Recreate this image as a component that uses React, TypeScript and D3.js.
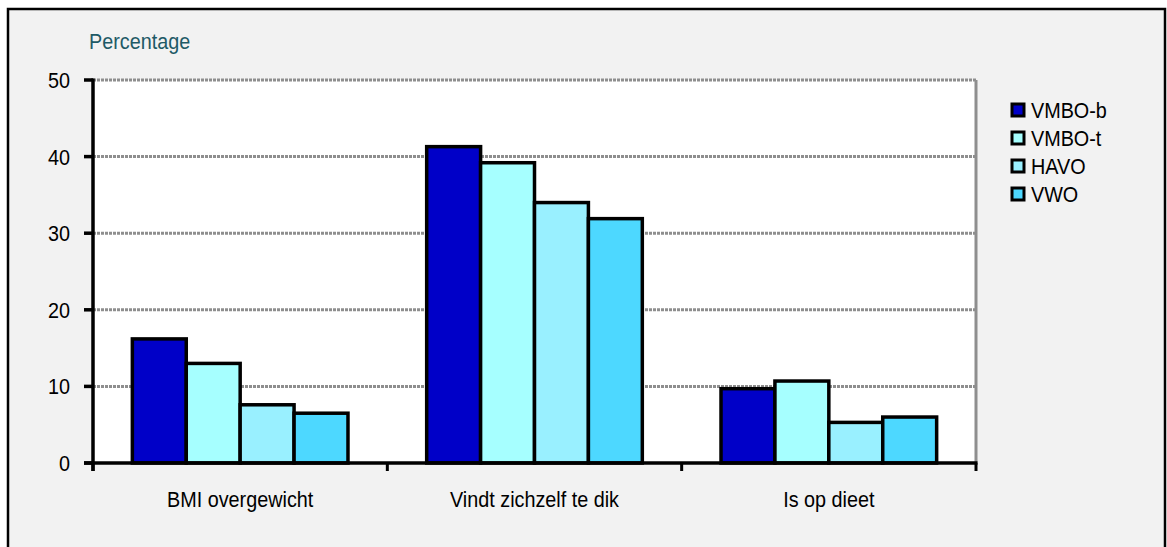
import React from "react";
import * as d3 from "d3";

const categories = ["BMI overgewicht", "Vindt zichzelf te dik", "Is op dieet"];
const seriesNames = ["VMBO-b", "VMBO-t", "HAVO", "VWO"];
const vmboB = [16.2, 41.3, 9.7];
const vmboT = [13.0, 39.2, 10.7];
const havo = [7.6, 34.0, 5.3];
const vwo = [6.5, 31.9, 6.0];
const yTicks = [0, 10, 20, 30, 40, 50];
const colors = ["#0000C8", "#A6FFFF", "#99F0FF", "#4DD8FF"];

const W = 1167;
const H = 547;
const plot = { left: 93, right: 976, top: 80, bottom: 463 };
const FONT = "'Liberation Sans', Arial, sans-serif";

export default function App() {
  const series = [vmboB, vmboT, havo, vwo];
  const x0 = d3.scaleBand<string>().domain(categories).range([plot.left, plot.right]).padding(0);
  const inner = d3
    .scaleBand<string>()
    .domain(seriesNames)
    .range([0, x0.bandwidth()])
    .paddingInner(0)
    .paddingOuter(0.73);
  const y = d3.scaleLinear().domain([0, 50]).range([plot.bottom, plot.top]);

  const sx = 0.9;
  const label = (x: number, yy: number, text: string, anchor: string, fill = "#000", key?: string) => (
    <text
      key={key}
      transform={`translate(${x},${yy}) scale(${sx},1)`}
      textAnchor={anchor}
      fontFamily={FONT}
      fontSize={22}
      fill={fill}
    >
      {text}
    </text>
  );

  const boundaries = [...categories.map((c) => x0(c)!), plot.right];

  return (
    <svg
      width={W}
      height={H}
      style={{ position: "absolute", left: 0, top: 0, display: "block" }}
    >
      <rect x={0} y={0} width={W} height={H} fill="#fff" />
      <rect x={8} y={9} width={1157} height={560} fill="#F2F2F2" stroke="#000" strokeWidth={2.5} />
      <rect
        x={plot.left}
        y={plot.top}
        width={plot.right - plot.left}
        height={plot.bottom - plot.top}
        fill="#fff"
      />
      {/* grid lines */}
      {yTicks
        .filter((t) => t > 0)
        .map((t) => (
          <line
            key={`g${t}`}
            x1={plot.left}
            x2={plot.right}
            y1={y(t)}
            y2={y(t)}
            stroke="#8E8E8E"
            strokeWidth={3}
            strokeDasharray="3 1"
          />
        ))}
      <line x1={plot.right} x2={plot.right} y1={plot.top} y2={plot.bottom} stroke="#8E8E8E" strokeWidth={3} />

      {/* bars */}
      {categories.map((c, ci) =>
        seriesNames.map((s, si) => {
          const bx = x0(c)! + inner(s)!;
          const v = series[si][ci];
          return (
            <rect
              key={`${c}-${s}`}
              x={bx}
              y={y(v)}
              width={inner.bandwidth()}
              height={y(0) - y(v)}
              fill={colors[si]}
              stroke="#000"
              strokeWidth={3.5}
            />
          );
        })
      )}

      {/* axes */}
      <line x1={plot.left} x2={plot.left} y1={plot.top - 1.5} y2={plot.bottom + 8} stroke="#000" strokeWidth={3.5} />
      <line x1={plot.left - 9} x2={plot.right + 1.5} y1={plot.bottom} y2={plot.bottom} stroke="#000" strokeWidth={3.5} />
      {yTicks.map((t) => (
        <line key={`yt${t}`} x1={plot.left - 9} x2={plot.left} y1={y(t)} y2={y(t)} stroke="#000" strokeWidth={3.5} />
      ))}
      {boundaries.map((bx, i) => (
        <line key={`xt${i}`} x1={bx} x2={bx} y1={plot.bottom} y2={plot.bottom + 8} stroke="#000" strokeWidth={3} />
      ))}
      {yTicks.map((t) => label(70, y(t) + 8, String(t), "end", "#000", `yl${t}`))}
      {categories.map((c) => label(x0(c)! + x0.bandwidth() / 2, 507, c, "middle", "#000", `xl${c}`))}
      {label(89, 49, "Percentage", "start", "#1E5A66", "title")}

      {/* legend */}
      {seriesNames.map((s, i) => (
        <g key={`lg${s}`}>
          <rect
            x={1012}
            y={104 + i * 28}
            width={12}
            height={12}
            fill={colors[i]}
            stroke="#000"
            strokeWidth={3}
          />
          {label(1031, 118 + i * 28, s, "start", "#000", `lt${s}`)}
        </g>
      ))}
    </svg>
  );
}
